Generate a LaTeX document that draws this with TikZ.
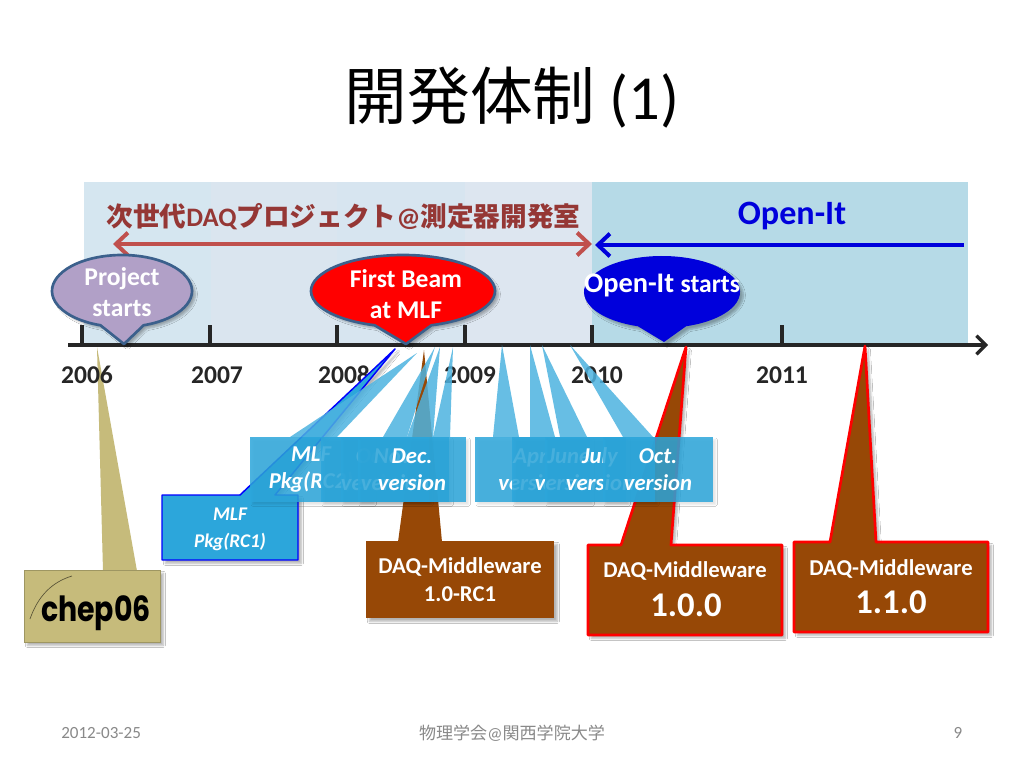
\documentclass[tikz,border=0pt]{standalone}
\usepackage{fontspec}
\setmainfont{Carlito}
\newfontfamily\cjk{Noto Sans CJK JP}
\newfontfamily\logofont{Poppins}
\usetikzlibrary{arrows.meta,shadows,shadows.blur,shapes.geometric}
\definecolor{strA}{HTML}{D5E6F0}
\definecolor{strB}{HTML}{DAE5EF}
\definecolor{strC}{HTML}{D7E5F0}
\definecolor{strD}{HTML}{DDE6F0}
\definecolor{strE}{HTML}{B6DAE7}
\definecolor{axisc}{HTML}{262626}
\definecolor{cbrown}{HTML}{974806}
\definecolor{cblue}{HTML}{2CA6DB}
\definecolor{cwedge}{HTML}{4DB3E0}
\definecolor{cpurple}{HTML}{B1A0C7}
\definecolor{cborder}{HTML}{3B608C}
\definecolor{ctan}{HTML}{C6BB7B}
\definecolor{footc}{HTML}{898989}
\definecolor{projc}{HTML}{953735}
\definecolor{arrowr}{HTML}{C0504D}
\definecolor{oblue}{HTML}{0000DC}
\tikzset{
  strip/.style={fill=#1,draw=none},
  soft/.style={blur shadow={shadow xshift=2.5pt,shadow yshift=-2.5pt,shadow opacity=30,shadow blur radius=1.5pt,shadow blur steps=6}},
  softlight/.style={blur shadow={shadow xshift=2pt,shadow yshift=-2pt,shadow opacity=12,shadow blur radius=1.2pt,shadow blur steps=5}},
  tickline/.style={line width=2.4pt,draw=axisc},
  year/.style={font=\fontsize{19.2}{22}\selectfont\bfseries,text=axisc,inner sep=0},
  label/.style={font=\fontsize{19.2}{23}\selectfont\bfseries,text=white,align=center,inner sep=0},
  bluewedge/.style={fill=cwedge,fill opacity=.85,draw=none},
  bluebox/.style={fill=cblue,fill opacity=.85,text opacity=1,draw=none,text=white,align=center,
     font=\fontsize{17}{20.2}\selectfont\bfseries\itshape,inner sep=0,minimum height=48.75pt},
  brownbox/.style={fill=cbrown,draw=none,text=white,align=center,inner sep=0,soft},
  redbrown/.style={fill=cbrown,draw=red,line width=2pt,line join=round,soft},
  foot/.style={font=\fontsize{12.8}{15}\selectfont,text=footc,inner sep=0},
}
\newcommand{\ecall}[7]{%
  \draw[#7] ({#1+#3*cos(-72)},{#2+#4*sin(72)})
     arc[start angle=-72,end angle=252,x radius={#3*0.75pt},y radius={#4*0.75pt}]
     -- (#5,#6) -- cycle;}
\newcommand{\bcall}[4]{%
  \coordinate (#1tip) at (#2);
  \fill[bluewedge] (#1tip) -- (#3,437) -- (#4,437) -- cycle;}
\begin{document}
\begin{tikzpicture}[x=0.75pt,y=-0.75pt]
\useasboundingbox (0,0) rectangle (1024,768);
\fill[white] (0,0) rectangle (1024,768);
\fill[strip=strA] (84,182) rectangle (211,345);
\fill[strip=strB] (211,182) rectangle (337,345);
\fill[strip=strC] (337,182) rectangle (465,345);
\fill[strip=strD] (465,182) rectangle (592,345);
\fill[strip=strE] (592,182) rectangle (968,345);
\node[inner sep=0,anchor=base] (title) at (512,119) {\fontsize{47}{56}\selectfont{\cjk 開発体制} (1)};
\node[inner sep=0,text=projc,font=\fontsize{20}{26}\selectfont\bfseries] (ptext) at (343.5,217)
  {{\cjk\bfseries 次世代}DAQ{\cjk\bfseries プロジェクト}@{\cjk\bfseries 測定器開発室}};
\node[inner sep=0,text=oblue,font=\fontsize{25.6}{30}\selectfont\bfseries] (otext) at (792,216) {Open-It};
\coordinate (pa) at (113,244); \coordinate (pb) at (592,244);
\coordinate (oa) at (964,245); \coordinate (ob) at (595,245);
\draw[{Straight Barb[length=9pt,width=17pt]}-{Straight Barb[length=9pt,width=17pt]},line width=3pt,draw=arrowr] (pa) -- (pb);
\draw[-{Straight Barb[length=9pt,width=17pt]},line width=3pt,draw=oblue] (oa) -- (ob);
\coordinate (ax0) at (68,345); \coordinate (ax1) at (988,345);
\foreach \tx/\tn in {82/a,210/b,337/c,465/d,592/e,782/f}{
  \coordinate (t\tn) at (\tx,325); \coordinate (u\tn) at (\tx,345);
  \draw[tickline] (t\tn) -- (u\tn);}
\draw[-{Straight Barb[length=7pt,width=14pt]},line width=2.4pt,draw=axisc] (ax0) -- (ax1);
\node[year] (y07) at (217,375) {2007};
\node[year] (y08) at (344,375) {2008};
\node[year] (y09) at (470,375) {2009};
\node[year] (y10) at (597,375) {2010};
\node[year] (y11) at (782,375) {2011};
\coordinate (ctip) at (97,347);
\fill[ctan] (ctip) -- (103,571) -- (137,571) -- cycle;
\node[year] (y06) at (87,375) {2006};
\node[fill=ctan,draw=ctan!80!black,line width=.5pt,soft,inner sep=0,minimum width=102pt,minimum height=54pt] (chep) at (92,606) {};
\draw[ctan!45!black,line width=.5pt] (30,619) .. controls (38,596) and (52,582) .. (72,576);
\node[inner sep=0,font=\logofont\bfseries\fontsize{26}{30}\selectfont] (cheptext) at (96,613) {\scalebox{.82}[1]{chep06}};
\ecall{122}{291}{70}{36}{124}{344}{fill=cpurple,draw=cborder,line width=2pt,line join=round,soft}
\node[label] (l1) at (122,292) {Project\\starts};
\ecall{403}{291}{92}{36}{406}{344}{fill=red,draw=cborder,line width=2pt,line join=round,soft}
\node[label] (l2) at (406,294) {First Beam\\at MLF};
\ecall{662}{292}{78}{36}{664}{342}{fill=oblue,draw=none,soft}
\node[inner sep=0,text=white,font=\bfseries] (l3) at (662,285)
  {\fontsize{21.3}{25}\selectfont Open-It \fontsize{19.2}{25}\selectfont starts};
\coordinate (r1tip) at (424,350);
\fill[cbrown] (r1tip) -- (398,542) -- (442,542) -- cycle;
\node[brownbox,minimum width=141pt,minimum height=57.75pt,font=\fontsize{17}{20.2}\selectfont\bfseries] (r1) at (460,579.5) {DAQ-Middleware\\[1pt]1.0-RC1};
\coordinate (r2tip) at (686,347);
\draw[redbrown] (588,545) -- (621,545) -- (r2tip) -- (671,545) -- (782,545) -- (782,635) -- (588,635) -- cycle;
\node[inner sep=0,text=white,font=\fontsize{17}{20}\selectfont\bfseries] (r2a) at (685,571) {DAQ-Middleware};
\node[inner sep=0,text=white,font=\fontsize{26}{32}\selectfont\bfseries] (r2b) at (686,605) {1.0.0};
\coordinate (r3tip) at (865,346);
\draw[redbrown] (794,542) -- (830,542) -- (r3tip) -- (876,542) -- (988,542) -- (988,632) -- (794,632) -- cycle;
\node[inner sep=0,text=white,font=\fontsize{17}{20}\selectfont\bfseries] (r3a) at (891,569) {DAQ-Middleware};
\node[inner sep=0,text=white,font=\fontsize{26}{32}\selectfont\bfseries] (r3b) at (891,602) {1.1.0};
% RC1 box with blue border (under the later boxes)
\coordinate (rtip) at (395,349);
\draw[fill=cblue,draw=blue,line width=1.1pt,line join=round,soft] (162,495) -- (240,495) -- (rtip) -- (275,495) -- (298,495) -- (298,560) -- (162,560) -- cycle;
\node[inner sep=0,text=white,align=center,font=\fontsize{14.5}{20.2}\selectfont\bfseries\itshape] (rc1) at (230,529) {MLF\\Pkg(RC1)};
% blue callouts, left group
\bcall{rc2}{417,353}{290}{337}
\node[bluebox,softlight,minimum width=91.5pt] (rc2) at (311,469.5) {MLF\\Pkg(RC2)};
\bcall{oct}{435,347}{383}{407}
\node[bluebox,softlight,minimum width=81pt] (oct) at (375,469.5) {Oct.\\version};
\bcall{nov}{440,347}{407}{433}
\node[bluebox,softlight,minimum width=81pt] (nov) at (395,469.5) {Nov.\\version};
\bcall{dec}{453,347}{433}{450}
\node[bluebox,softlight,minimum width=81pt] (dec) at (412,469.5) {Dec.\\version};
% blue callouts, right group
\bcall{apr}{502,345}{493}{519}
\node[bluebox,softlight,minimum width=86.25pt] (apr) at (532.5,469.5) {Apr.\\version};
\bcall{jun}{530,345}{530}{555}
\node[bluebox,softlight,minimum width=85.5pt] (jun) at (569,469.5) {June\\version};
\bcall{jul}{542,345}{560}{587}
\node[bluebox,softlight,minimum width=82.5pt] (jul) at (600,469.5) {July\\version};
\bcall{oc2}{570,345}{623}{653}
\node[bluebox,softlight,minimum width=82.5pt] (oc2) at (658,469.5) {Oct.\\version};
\node[foot,anchor=west] (f1) at (61,733) {2012-03-25};
\node[foot] (f2) at (512,733) {{\cjk 物理学会}@{\cjk 関西学院大学}};
\node[foot] (f3) at (958,733) {9};
\end{tikzpicture}
\end{document}
